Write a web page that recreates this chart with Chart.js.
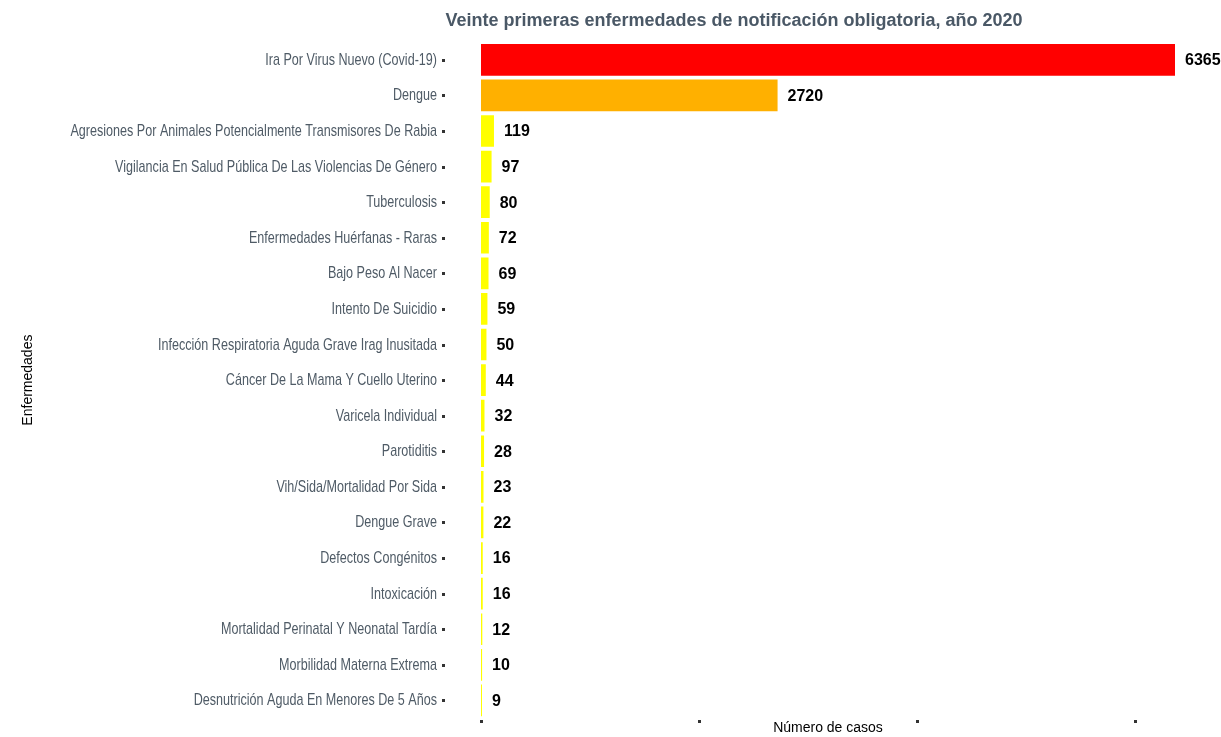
<!DOCTYPE html>
<html>
<head>
<meta charset="utf-8">
<script src="https://cdn.jsdelivr.net/npm/chart.js@4.4.1/dist/chart.umd.min.js"></script>
<style>
  html, body { margin: 0; padding: 0; background: #ffffff; }
  #wrap { width: 1221px; height: 737px; position: relative; }
</style>
</head>
<body>
<div id="wrap"><canvas id="c" width="1221" height="737"></canvas></div>
<script>
const chartTitle = "Veinte primeras enfermedades de notificación obligatoria, año 2020";
const xAxisTitle = "Número de casos";
const yAxisTitle = "Enfermedades";

const categories = [
  "Ira Por Virus Nuevo (Covid-19)",
  "Dengue",
  "Agresiones Por Animales Potencialmente Transmisores De Rabia",
  "Vigilancia En Salud Pública De Las Violencias De Género",
  "Tuberculosis",
  "Enfermedades Huérfanas - Raras",
  "Bajo Peso Al Nacer",
  "Intento De Suicidio",
  "Infección Respiratoria Aguda Grave Irag Inusitada",
  "Cáncer De La Mama Y Cuello Uterino",
  "Varicela Individual",
  "Parotiditis",
  "Vih/Sida/Mortalidad Por Sida",
  "Dengue Grave",
  "Defectos Congénitos",
  "Intoxicación",
  "Mortalidad Perinatal Y Neonatal Tardía",
  "Morbilidad Materna Extrema",
  "Desnutrición Aguda En Menores De 5 Años"
];

const casos = [6365, 2720, 119, 97, 80, 72, 69, 59, 50, 44, 32, 28, 23, 22, 16, 16, 12, 10, 9];

const barColors = [
  "#FF0000", "#FFB000",
  "#FFFF00", "#FFFF00", "#FFFF00", "#FFFF00", "#FFFF00", "#FFFF00", "#FFFF00",
  "#FFFF00", "#FFFF00", "#FFFF00", "#FFFF00", "#FFFF00", "#FFFF00", "#FFFF00",
  "#FFFF00", "#FFFF00", "#FFFF00"
];

const xTickValues = [0, 2000, 4000, 6000];

const decoPlugin = {
  id: 'deco',
  afterDraw(chart) {
    const ctx = chart.ctx;
    const xs = chart.scales.x;
    const ys = chart.scales.y;
    const area = chart.chartArea;
    ctx.save();
    // title
    ctx.font = "bold 18px 'Liberation Sans', Arial, sans-serif";
    ctx.fillStyle = "#4a5866";
    ctx.textAlign = "center";
    ctx.textBaseline = "middle";
    ctx.fillText(chartTitle, 734, 21);

    // y category labels (condensed look)
    const sx = 0.74;
    ctx.font = "17px 'Liberation Sans', Arial, sans-serif";
    ctx.fillStyle = "#4f5b66";
    ctx.textAlign = "right";
    ctx.textBaseline = "alphabetic";
    for (let i = 0; i < ys.ticks.length; i++) {
      const y = ys.getPixelForTick(i);
      ctx.save();
      ctx.translate(437, y + 5);
      ctx.scale(sx, 1);
      ctx.fillText(categories[i], 0, 0);
      ctx.restore();
    }

    // y tick dots
    ctx.fillStyle = "#333333";
    for (let i = 0; i < ys.ticks.length; i++) {
      const y = ys.getPixelForTick(i);
      ctx.fillRect(442, Math.round(y) - 1, 3, 3);
    }
    // x tick dots
    xTickValues.forEach(v => {
      const x = xs.getPixelForValue(v);
      ctx.fillRect(Math.round(x) - 1, Math.round(area.bottom) + 2, 3, 3);
    });
    // value labels
    ctx.font = "bold 16px 'Liberation Sans', Arial, sans-serif";
    ctx.fillStyle = "#000000";
    ctx.textAlign = "left";
    ctx.textBaseline = "middle";
    const meta = chart.getDatasetMeta(0);
    meta.data.forEach((bar, i) => {
      ctx.fillText(String(casos[i]), bar.x + 10, bar.y + 1);
    });
    ctx.restore();
  }
};

new Chart(document.getElementById('c'), {
  type: 'bar',
  data: {
    labels: categories,
    datasets: [{
      data: casos,
      backgroundColor: barColors,
      borderWidth: 0,
      barPercentage: 0.89,
      categoryPercentage: 1.0
    }]
  },
  options: {
    indexAxis: 'y',
    responsive: false,
    animation: false,
    devicePixelRatio: 1,
    layout: { padding: { top: 42, right: 46, bottom: 0, left: 0 } },
    plugins: {
      legend: { display: false },
      title: { display: false },
      tooltip: { enabled: false }
    },
    scales: {
      x: {
        min: 0,
        max: 6365,
        grid: { display: false, drawTicks: false },
        border: { display: false },
        ticks: { display: false, stepSize: 2000 },
        title: {
          display: true,
          text: xAxisTitle,
          color: "#000000",
          font: { family: "'Liberation Sans', Arial, sans-serif", size: 14 },
          padding: { top: 2, bottom: 0 }
        }
      },
      y: {
        grid: { display: false, drawTicks: false },
        border: { display: false },
        ticks: { display: false },
        title: {
          display: true,
          text: yAxisTitle,
          color: "#000000",
          font: { family: "'Liberation Sans', Arial, sans-serif", size: 14 },
          padding: { top: 20, bottom: 0 }
        },
        afterFit(scale) { scale.width = 481; }
      }
    }
  },
  plugins: [decoPlugin]
});
</script>
</body>
</html>
